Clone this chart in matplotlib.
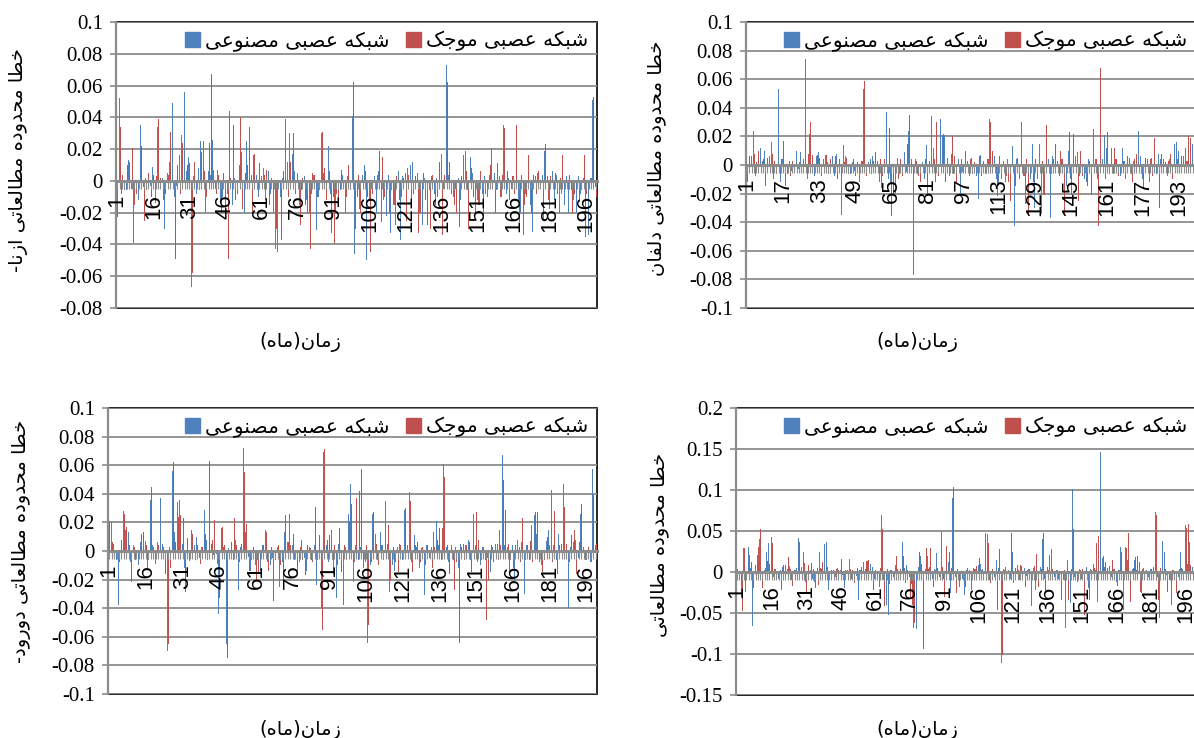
import numpy as np
import matplotlib
matplotlib.use('Agg')
import matplotlib.pyplot as plt
from matplotlib.patches import Patch

plt.rcParams['axes.unicode_minus'] = False

months = np.arange(1, 201)

# monthly errors, in units of 0.001
azna_ann = [
    -10, 52, -8, 14, -6, 13, -5, -39, 3, -12,
    35, -4, 2, -8, -3, 9, -14, 34, -6, 2,
    -30, 5, 12, 49, -10, -3, 16, 29, 56, 6,
    15, -67, 3, -8, 8, 25, 25, -20, 6, 4,
    26, -5, 7, -12, -10, -37, -8, 44, -15, 2,
    -6, 10, 18, -20, 25, -33, 4, 16, 4, -10,
    3, 8, -12, 6, -8, -20, -43, -45, -10, 2,
    39, 12, 30, 17, 6, 5, -15, -6, 3, -12,
    -20, -8, 4, -31, -10, 30, 5, 22, 22, -8,
    -10, -19, 2, -6, 4, -20, 3, -12, 41, -46,
    -10, -18, 4, 10, -50, -12, -5, 3, -20, 6,
    -26, -12, -22, 4, -33, -15, -28, 6, -37, 3,
    5, 8, 10, 12, -10, 5, -20, -28, 2, -12,
    -6, 3, -8, 2, 46, 17, -5, 73, 4, -43,
    -10, -5, 2, -12, 16, 19, -6, 15, 5, -21,
    -12, -15, -8, 3, -10, 4, 21, 5, -6, 3,
    -10, 35, -8, 2, -5, 3, 2, -12, -20, -34,
    -8, 4, -15, -32, 3, 5, -8, 4, 19, 3,
    -18, 6, -12, 4, -20, -8, -15, 3, -20, -6,
    -12, -20, 3, -8, 2, -35, -34, 2, 51, -4,
]
azna_wnn = [
    -23, 34, 4, -6, 10, 12, 21, -15, -8, -3,
    22, -25, -6, 5, -10, 4, 3, 39, 2, -12,
    -8, 4, 31, 44, -49, 10, -8, 24, 51, 10,
    11, -58, 12, 2, -6, 18, 6, -10, 24, 67,
    7, -8, 4, -20, 5, -22, -49, 2, 35, -12,
    -8, 40, -18, 5, 10, 34, -20, 17, -6, 11,
    -11, 4, 7, -15, 2, -25, -30, -5, -37, 6,
    22, -10, 12, 30, -8, 4, -28, 2, -15, -20,
    -43, 5, 4, -10, -6, 31, 8, -12, 6, -33,
    -39, -8, -15, 7, -4, -10, 10, -6, 62, -30,
    4, -20, -10, 6, -10, -45, -8, 10, 4, 19,
    15, -10, -8, -20, -6, -15, 3, -12, -10, 2,
    -25, 4, -15, -8, 3, -33, -20, 5, -12, -28,
    -30, 4, -15, -10, 12, -34, 4, 62, 12, -8,
    -15, -20, -29, 3, -5, 6, -30, 8, -10, 4,
    -15, 6, -22, -8, 10, 10, -5, -20, 11, -10,
    4, 33, 6, -12, 3, -8, 35, -26, 4, -15,
    -10, 16, -20, 4, -8, 6, -5, -25, 23, -12,
    3, -15, 5, -8, 2, 16, -10, -5, 4, -20,
    -8, 3, -12, -6, 16, -8, -20, 2, 53, -10,
]

delfan_ann = [
    -8, 21, 6, 24, -8, 14, 12, 3, 10, -6,
    6, 16, -10, 8, 53, -12, 4, 19, -6, 3,
    -4, 2, 10, -3, 9, 5, 74, -10, 22, 4,
    -8, 6, 9, -14, 4, 7, 2, -5, 6, -8,
    8, 12, -35, 14, 6, 3, -6, 2, -4, 4,
    -12, 3, 53, -6, 2, 4, 6, -4, 3, -12,
    -16, 8, 37, -10, -12, -8, -20, 5, -6, 10,
    9, -5, 24, 80, -77, 4, -6, -18, 2, -10,
    14, -20, 34, 12, -12, 6, 32, 21, 21, -4,
    -8, 8, -6, 15, 4, -20, -5, 16, 3, -8,
    5, -10, -8, -24, 7, 14, -6, 4, 32, 12,
    6, -10, -15, -20, 3, -12, 4, -8, 13, -43,
    4, -37, 30, -8, -27, 15, -10, 15, -30, 15,
    15, -34, -20, -36, 4, -37, 6, -12, 3, -8,
    4, 2, -15, 10, -10, 25, 6, 9, -8, -6,
    -10, -12, 4, -5, 25, 4, -10, 46, 4, 21,
    12, 3, 12, -6, 4, 12, -8, 12, 3, 10,
    5, -6, 3, -5, 24, 6, -10, 14, 4, -12,
    5, 10, -6, 8, 4, -3, 2, -8, 4, -6,
    15, 16, 10, -5, 6, 12, 3, -8, 15, 6,
]
delfan_wnn = [
    -12, 6, -5, 8, 2, 10, -8, 4, -15, 5,
    -24, 8, 3, -6, 58, 4, 17, -15, 2, -8,
    3, -5, 6, 2, -4, 4, 62, 8, 30, 7,
    -33, 7, 5, -8, 3, 7, -6, 4, 23, 6,
    -10, 4, -20, 2, 5, -6, 3, 4, -8, 2,
    -6, 3, 59, -8, 4, -6, 3, 9, -5, 4,
    -8, 4, 43, 26, -36, -20, 6, -10, 4, -8,
    3, 15, 35, 4, -70, 3, -8, -12, -5, 4,
    -22, 3, -10, 4, 30, -8, 32, 22, -12, 5,
    -10, 20, 6, -12, 8, 4, -5, 10, -8, 4,
    -6, 2, -5, 6, -8, 3, 7, 4, 30, 10,
    41, -22, 6, -10, 4, -8, -12, -25, 3, -15,
    5, -10, 52, -8, 4, -36, 8, -12, 4, -10,
    6, 3, -21, 28, 10, -6, 4, 15, -5, 10,
    4, -36, 15, 23, -21, 22, 12, -25, 10, -8,
    4, -15, 3, -21, 18, 4, -43, 68, 8, -10,
    23, -6, 46, 12, 4, -8, 12, 3, -10, 6,
    -14, -12, 4, 8, 27, -6, -17, 5, -20, 4,
    -8, 19, -12, -30, 8, 4, -6, 3, 8, -10,
    -30, 4, -5, 6, -8, 3, 20, 19, -6, 10,
]

dorood_ann = [
    14, 20, 5, -6, -38, 3, 28, 15, 13, -8,
    4, -6, -10, 6, 10, 7, -12, 36, 4, -9,
    6, 37, 5, -8, -70, 3, 56, 13, 34, 36,
    5, -12, 4, -7, 15, 4, 10, -5, 3, 29,
    8, 76, 5, -3, -2, -44, 16, 3, -65, 2,
    15, -6, 8, -27, 3, 72, 13, -4, -14, 3,
    -10, -6, -14, 4, 15, -8, -10, -5, -15, 3,
    -25, -8, 13, 6, 26, 4, -6, 3, -8, 8,
    -5, -14, 3, -6, 4, -24, 5, -40, 69, 4,
    -8, 15, -16, -33, 5, -10, -38, 3, 26, 47,
    -22, 4, -6, 3, -12, -8, -64, -10, 26, 12,
    -6, 13, 4, 35, 5, -29, -10, -14, 3, 5,
    -6, 29, 4, 41, -8, 11, 3, -12, 2, -31,
    4, -5, 3, 13, 21, 4, -6, 61, 3, -8,
    4, -6, 3, -12, 5, 5, 4, 8, -6, 26,
    4, -8, -10, 3, -6, -5, -15, 3, 5, 5,
    15, 67, 4, 3, -15, 4, -20, 8, 3, 6,
    -30, 4, -6, 18, 25, 12, -8, -10, 4, 7,
    15, 43, 4, -6, 12, 5, 47, -8, -40, 3,
    6, 8, -5, 26, 3, -6, 26, -8, 57, 4,
]
dorood_wnn = [
    21, 6, -4, 23, -8, 8, 26, 17, 4, -22,
    3, -5, -16, 12, 13, 4, -6, 45, 3, -4,
    4, 36, 3, -16, -65, -12, 62, 6, 24, 25,
    23, -29, 9, -4, 12, -6, 4, -9, 3, 12,
    -6, 63, 8, 22, -9, -33, 17, 4, -75, -5,
    6, 23, 4, -8, 5, 55, 19, -14, -6, 3,
    -20, -15, -5, 4, 13, -14, 3, -35, -6, 4,
    -10, -20, 25, 6, 4, 12, -5, -14, 3, -6,
    -17, 4, 2, -8, 31, -6, 11, -55, 71, 8,
    11, -6, 4, -10, 16, -15, 4, -6, 21, 33,
    -8, 37, 42, 57, -6, 4, -52, -8, 27, 5,
    -10, 4, -6, 28, 18, -21, 3, -8, -15, 4,
    -5, 30, 26, 35, -15, 4, 6, -8, 3, -10,
    4, 20, -12, 3, 8, 16, 16, 52, 4, -16,
    5, -27, -8, -64, 3, -6, 4, 6, -15, 4,
    27, 8, -6, 3, -48, -20, 4, -8, 3, -6,
    4, 50, 29, 5, -6, -12, 4, 11, -8, 23,
    -6, 4, 7, -8, 27, 27, 4, -15, -6, 10,
    4, -8, 28, -16, 4, -6, 31, 5, -8, 11,
    15, -16, 6, 33, 5, -6, 3, -8, 39, 5,
]

region4_ann = [
    2, -13, -30, 29, -24, 31, 5, -66, 8, 21,
    40, -10, 3, 25, 35, 43, -6, 4, -8, 3,
    6, -5, 4, 7, -10, 3, 5, 41, 6, 25,
    -12, 4, 3, -8, -12, 5, 24, 4, 34, 37,
    -22, 12, 3, -6, 5, 3, -4, -20, 3, 16,
    -8, 3, -5, -34, 2, 12, 4, 14, 10, 6,
    -8, -26, -18, 70, -10, -40, -52, 3, -6, 8,
    4, -26, 36, 5, 8, -6, -15, -68, -70, 6,
    19, -10, 4, 20, 6, -8, 4, 23, -6, 50,
    -8, 24, 12, -26, 90, -6, 4, -18, -8, -28,
    3, -6, -22, 5, 4, 8, 10, 4, 48, 46,
    -10, 4, -6, 15, 5, -111, 4, 6, 3, -8,
    25, -6, 8, -10, 7, 5, -5, 4, -42, 5,
    -22, 19, 6, 40, -8, 6, 21, 28, -6, 3,
    -8, 4, -10, -68, 15, -38, 101, -6, -12, 4,
    -8, -40, 6, -20, 4, 10, 3, -36, 146, 17,
    6, 4, 7, -6, 4, -12, 3, 30, -46, 31,
    15, -8, 4, 15, 3, 12, -25, 5, 3, -6,
    4, -8, 73, -6, -56, 38, 25, -4, -10, -40,
    3, 10, -6, 25, 4, 57, 10, 37, 6, -8,
]
region4_wnn = [
    4, -6, -48, 29, -10, 21, 12, -20, 19, 31,
    52, -20, 5, 14, 10, 35, 4, -6, -26, -22,
    9, 9, 18, 4, -17, 3, -3, 36, 25, 11,
    -26, 9, 11, 4, -20, -16, 5, 12, 19, 6,
    -10, 3, -6, 4, 2, 16, -8, 3, -28, 4,
    2, -14, 5, 3, 6, -6, 14, 15, 4, -22,
    3, -10, 5, 52, -42, 4, -15, 3, -28, 19,
    -6, 4, 19, -14, 3, -30, -40, -62, 6, 25,
    10, -94, 29, 4, 29, -18, 3, 5, -18, 6,
    -30, 32, 24, 5, 104, -26, 1, -8, 4, -18,
    5, 3, -6, 4, 7, 17, 3, -8, 25, 35,
    -14, 4, -6, -46, 28, -101, 3, -6, 4, 48,
    -14, 5, 3, 9, -4, -18, 3, 4, -6, 7,
    22, -18, 4, 47, -24, 3, -6, 4, -18, 2,
    -4, -34, 3, -6, -34, 4, 52, -8, -50, 3,
    4, -52, -6, -34, 3, 5, 35, 44, 130, 20,
    12, 5, -6, 15, 4, -17, 3, 25, 4, 29,
    47, -36, 5, 18, 20, -24, 4, -6, 3, -8,
    4, 6, 70, -34, 5, -8, 4, -24, -32, 3,
    -6, -26, 4, 5, -8, 54, 58, 8, -6, 4,
]

ann_label = 'شبکه عصبی مصنوعی'
wnn_label = 'شبکه عصبی موجک'
x_label = 'زمان(ماه)'

# matplotlib does no Arabic shaping, so pick the presentation forms by hand
# (isolated, final, initial, medial) and lay the string out right to left
FORMS = {
    'ا': ('\uFE8D', '\uFE8E', None, None),
    'ب': ('\uFE8F', '\uFE90', '\uFE91', '\uFE92'),
    'ت': ('\uFE95', '\uFE96', '\uFE97', '\uFE98'),
    'ج': ('\uFE9D', '\uFE9E', '\uFE9F', '\uFEA0'),
    'ح': ('\uFEA1', '\uFEA2', '\uFEA3', '\uFEA4'),
    'خ': ('\uFEA5', '\uFEA6', '\uFEA7', '\uFEA8'),
    'د': ('\uFEA9', '\uFEAA', None, None),
    'ر': ('\uFEAD', '\uFEAE', None, None),
    'ز': ('\uFEAF', '\uFEB0', None, None),
    'ش': ('\uFEB5', '\uFEB6', '\uFEB7', '\uFEB8'),
    'ص': ('\uFEB9', '\uFEBA', '\uFEBB', '\uFEBC'),
    'ط': ('\uFEC1', '\uFEC2', '\uFEC3', '\uFEC4'),
    'ع': ('\uFEC9', '\uFECA', '\uFECB', '\uFECC'),
    'ف': ('\uFED1', '\uFED2', '\uFED3', '\uFED4'),
    'ک': ('\uFB8E', '\uFB8F', '\uFB90', '\uFB91'),
    'ل': ('\uFEDD', '\uFEDE', '\uFEDF', '\uFEE0'),
    'م': ('\uFEE1', '\uFEE2', '\uFEE3', '\uFEE4'),
    'ن': ('\uFEE5', '\uFEE6', '\uFEE7', '\uFEE8'),
    'ه': ('\uFEE9', '\uFEEA', '\uFEEB', '\uFEEC'),
    'و': ('\uFEED', '\uFEEE', None, None),
    'ی': ('\uFBFC', '\uFBFD', '\uFBFE', '\uFBFF'),
}
MIRROR = {'(': ')', ')': '('}


def fa(text):
    out = []
    for k, ch in enumerate(text):
        f = FORMS.get(ch)
        if f is None:
            out.append(MIRROR.get(ch, ch))
            continue
        prev = text[k - 1] if k > 0 else ''
        nxt = text[k + 1] if k + 1 < len(text) else ''
        jp = prev in FORMS and FORMS[prev][2] is not None
        jn = nxt in FORMS and f[2] is not None
        if jp and jn:
            out.append(f[3])
        elif jp:
            out.append(f[1])
        elif jn:
            out.append(f[2])
        else:
            out.append(f[0])
    return ''.join(reversed(out))


BLUE = '#4F81BD'
RED = '#C0504D'
GREY = '#8c8c8c'
FA_FONT = 'DejaVu Sans'

W, H = 1194, 738
fig = plt.figure(figsize=(W / 100, H / 100), dpi=100)

panels = [
    dict(ann=azna_ann, wnn=azna_wnn, ylabel='خطا محدوده مطالعاتی ازنا-',
         ylim=(-0.08, 0.1), ystep=0.02, xstep=15,
         box=(116, 22, 597, 308), ylab=(19, 160), xlab=(300, 342)),
    dict(ann=delfan_ann, wnn=delfan_wnn, ylabel='خطا محدوده مطالعاتی دلفان',
         ylim=(-0.1, 0.1), ystep=0.02, xstep=16,
         box=(746, 22, 1196, 308), ylab=(657, 158), xlab=(917, 342)),
    dict(ann=dorood_ann, wnn=dorood_wnn, ylabel='خطا محدوده مطالعاتی دورود-',
         ylim=(-0.1, 0.1), ystep=0.02, xstep=15,
         box=(108, 408, 597, 694), ylab=(22, 541), xlab=(300, 730)),
    dict(ann=region4_ann, wnn=region4_wnn, ylabel='خطا محدوده مطالعاتی',
         ylim=(-0.15, 0.2), ystep=0.05, xstep=15,
         box=(736, 408, 1196, 695), ylab=(660, 545), xlab=(917, 730)),
]

w = 0.38
for p in panels:
    l, t, r, b = p['box']
    ax = fig.add_axes([l / W, 1 - b / H, (r - l) / W, (b - t) / H])
    ax.set_axisbelow(True)

    ax.bar(months - w / 2, np.array(p['ann']) / 1000, width=w, color=BLUE, lw=0)
    ax.bar(months + w / 2, np.array(p['wnn']) / 1000, width=w, color=RED, lw=0)

    ax.set_xlim(0.5, 200.5)
    lo, hi = p['ylim']
    ax.set_ylim(lo, hi)
    yt = np.round(np.arange(lo, hi + p['ystep'] / 2, p['ystep']), 3)
    ax.set_yticks(yt)
    ax.set_yticklabels(['%g' % v for v in yt])
    ax.yaxis.grid(True, color=GREY, lw=1.3)
    ax.tick_params(axis='y', direction='out', length=4.5, width=1.2,
                   color=GREY, pad=5, labelsize=15,
                   labelfontfamily='Liberation Serif')

    ax.set_xticks(months)
    ax.set_xticklabels([str(m) if (m - 1) % p['xstep'] == 0 else ''
                        for m in months])
    ax.tick_params(axis='x', direction='out', length=5.8, width=0.8,
                   color=GREY, pad=4, labelrotation=90, labelsize=16,
                   labelfontfamily='Liberation Sans')
    ax.xaxis.set_zorder(2.6)

    ax.spines['bottom'].set_position(('data', 0))
    ax.spines['bottom'].set_color(GREY)
    ax.spines['bottom'].set_linewidth(2.2)
    ax.spines['left'].set_color(GREY)
    ax.spines['left'].set_linewidth(1.6)
    ax.spines['top'].set_visible(False)
    ax.spines['right'].set_visible(False)
    ax.patch.set_edgecolor('black')
    ax.patch.set_linewidth(1.2)

    ax.legend([Patch(color=BLUE), Patch(color=RED)],
              [fa(ann_label), fa(wnn_label)],
              ncol=2, loc='upper right', frameon=False,
              prop={'family': FA_FONT, 'size': 14.5},
              handlelength=0.74, handleheight=0.74, handletextpad=0.25,
              columnspacing=0.8, borderaxespad=0.05)

    fig.text(p['ylab'][0] / W, 1 - p['ylab'][1] / H, fa(p['ylabel']),
             rotation=90, ha='center', va='center', family=FA_FONT, size=14)
    fig.text(p['xlab'][0] / W, 1 - p['xlab'][1] / H, fa(x_label),
             ha='center', va='center', family=FA_FONT, size=14)

fig.savefig('out.png', dpi=100)
